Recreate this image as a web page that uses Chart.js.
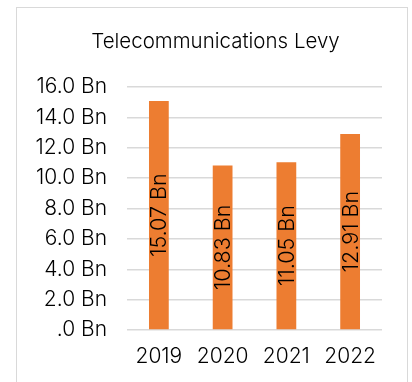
<!DOCTYPE html>
<html>
<head>
<meta charset="utf-8">
<script src="https://cdn.jsdelivr.net/npm/chart.js@4"></script>
<style>
  html, body { margin: 0; padding: 0; background: #fff; }
  #wrap { position: relative; width: 412px; height: 382px; overflow: hidden; }
  #frame { position: absolute; left: 16px; top: 7px; width: 392px; height: 400px;
           border: 1.5px solid #d9d9d9; box-sizing: border-box; }
  canvas { position: absolute; left: 0; top: 0; }
</style>
</head>
<body>
<div id="wrap">
  <div id="frame"></div>
  <canvas id="plot" width="412" height="382"></canvas>
</div>
<script>
const years = ['2019', '2020', '2021', '2022'];
const levy = [15.07, 10.83, 11.05, 12.91];
const yTicks = [0, 2, 4, 6, 8, 10, 12, 14, 16];
const heading = 'Telecommunications Levy';

const FONT = 'Inter';

function bn(v, digits) {
  let s = v.toFixed(digits);
  if (s.startsWith('0.')) s = s.slice(1);
  return s + ' Bn';
}

// heading centred over the whole frame, not just the plot
const headingPlugin = {
  id: 'heading',
  afterDraw(chart) {
    const ctx = chart.ctx;
    ctx.save();
    ctx.font = '300 20.5px ' + FONT;
    ctx.fillStyle = '#000';
    ctx.textAlign = 'center';
    ctx.textBaseline = 'middle';
    ctx.fillText(heading, 215.5, 42);
    ctx.restore();
  }
};

// value labels written sideways in the middle of each bar
const barLabels = {
  id: 'barLabels',
  afterDatasetsDraw(chart) {
    const ctx = chart.ctx;
    const meta = chart.getDatasetMeta(0);
    ctx.save();
    ctx.font = '300 21.5px ' + FONT;
    ctx.fillStyle = '#000';
    ctx.textAlign = 'center';
    ctx.textBaseline = 'middle';
    meta.data.forEach((bar, i) => {
      const cy = (bar.y + bar.base) / 2;
      ctx.save();
      ctx.translate(bar.x + 1, cy);
      ctx.rotate(-Math.PI / 2);
      ctx.fillText(bn(levy[i], 2), 0, 0);
      ctx.restore();
    });
    ctx.restore();
  }
};

const data = {
  labels: years,
  datasets: [{
    data: levy,
    backgroundColor: '#ed7d31',
    borderWidth: 0,
    barPercentage: 0.62,
    categoryPercentage: 0.5
  }]
};

const config = {
  type: 'bar',
  data: data,
  options: {
    responsive: false,
    animation: false,
    layout: { padding: { left: 20, right: 30, top: 87, bottom: 0 } },
    plugins: {
      legend: { display: false },
      tooltip: { enabled: false },
      title: { display: false }
    },
    scales: {
      y: {
        min: 0,
        max: 16,
        afterBuildTicks(axis) { axis.ticks = yTicks.map(v => ({ value: v })); },
        afterFit(axis) { axis.width = 107; },
        border: { display: false },
        grid: { color: '#d9d9d9', lineWidth: 1.5, drawTicks: false },
        ticks: {
          padding: 20,
          color: '#000',
          font: { family: FONT, size: 21, weight: '300' },
          callback: v => bn(v, 1)
        }
      },
      x: {
        afterFit(axis) { axis.height = 52; },
        border: { display: false },
        grid: { display: false, drawTicks: false },
        ticks: {
          padding: 14,
          color: '#000',
          font: { family: FONT, size: 21, weight: '300' }
        }
      }
    }
  },
  plugins: [barLabels, headingPlugin]
};

let ctx = document.getElementById('plot').getContext('2d');
let chart = new Chart(ctx, config);
</script>
</body>
</html>
